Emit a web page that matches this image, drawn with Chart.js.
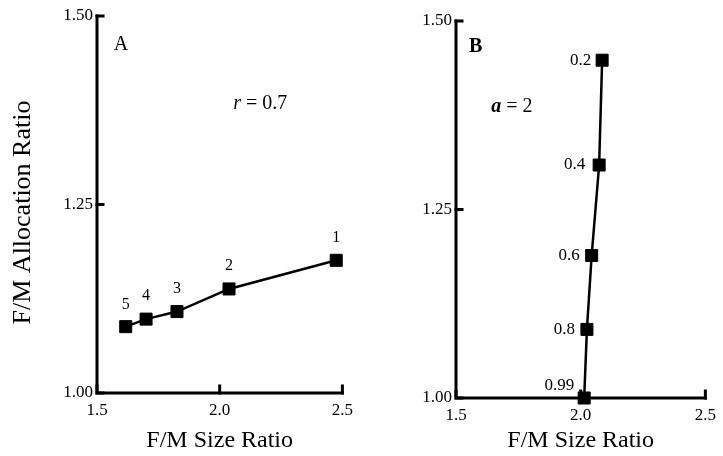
<!DOCTYPE html>
<html>
<head>
    <title>F/M Allocation vs Size Ratio</title>
    <style>
        body {
            margin: 0;
            background-color: #ffffff;
        }

        #chartContainer {
            position: relative;
            width: 723px;
            height: 456px;
        }

        #chartA {
            position: absolute;
            left: 0;
            top: 0;
        }

        #chartB {
            position: absolute;
            left: 360px;
            top: 0;
        }
    </style>
    <script src="https://cdn.jsdelivr.net/npm/chart.js"></script>
</head>
<body>
    <div id="chartContainer">
        <canvas id="chartA" width="360" height="456"></canvas>
        <canvas id="chartB" width="363" height="456"></canvas>
    </div>

    <script>
        // Panel A: r = 0.7, points labelled by the other parameter
        var sizeA = [1.617, 1.700, 1.826, 2.038, 2.475];
        var allocA = [1.088, 1.098, 1.108, 1.138, 1.176];
        var labelsA = ['5', '4', '3', '2', '1'];

        // Panel B: a = 2
        var sizeB = [2.086, 2.074, 2.044, 2.025, 2.014];
        var allocB = [1.448, 1.309, 1.189, 1.091, 1.000];
        var labelsB = ['0.2', '0.4', '0.6', '0.8', '0.99'];

        var xTicks = [1.5, 2.0, 2.5];
        var yTicks = [1.00, 1.25, 1.50];

        var serif = "'Liberation Serif', 'Times New Roman', serif";

        function toPoints(xs, ys) {
            return xs.map(function (x, i) { return { x: x, y: ys[i] }; });
        }

        // axes drawn by hand: thick lines with ticks pointing inward
        var axesPlugin = {
            id: 'axesInward',
            beforeDatasetsDraw: function (chart) {
                var ctx = chart.ctx;
                var area = chart.chartArea;
                var xs = chart.scales.x;
                var ys = chart.scales.y;
                ctx.save();
                ctx.strokeStyle = '#000';
                ctx.lineWidth = 3;
                ctx.lineCap = 'square';
                ctx.beginPath();
                ctx.moveTo(area.left, area.top);
                ctx.lineTo(area.left, area.bottom);
                ctx.lineTo(area.right, area.bottom);
                ctx.stroke();
                ctx.beginPath();
                yTicks.forEach(function (v) {
                    var py = ys.getPixelForValue(v);
                    ctx.moveTo(area.left, py);
                    ctx.lineTo(area.left + 6, py);
                });
                xTicks.forEach(function (v) {
                    var px = xs.getPixelForValue(v);
                    ctx.moveTo(px, area.bottom);
                    ctx.lineTo(px, area.bottom - 7);
                });
                ctx.stroke();
                ctx.restore();
            }
        };

        // point labels, panel annotations and the y title
        var labelPlugin = {
            id: 'pointText',
            afterDatasetsDraw: function (chart, args, opts) {
                var ctx = chart.ctx;
                var meta = chart.getDatasetMeta(0);
                var area = chart.chartArea;
                ctx.save();
                ctx.fillStyle = '#000';
                ctx.font = opts.labelFont;
                ctx.textAlign = opts.align;
                ctx.textBaseline = 'middle';
                meta.data.forEach(function (pt, i) {
                    var off = opts.offsets[i];
                    ctx.fillText(opts.labels[i], pt.x + off[0], pt.y + off[1]);
                });
                ctx.textAlign = 'center';
                opts.notes.forEach(function (n) {
                    var px = chart.scales.x.getPixelForValue(n.x);
                    var py = chart.scales.y.getPixelForValue(n.y);
                    if (n.parts) {
                        // mixed italic symbol + plain rest
                        ctx.font = n.parts[0].font;
                        var w0 = ctx.measureText(n.parts[0].text).width;
                        ctx.font = n.parts[1].font;
                        var w1 = ctx.measureText(n.parts[1].text).width;
                        var start = px - (w0 + w1) / 2;
                        ctx.textAlign = 'left';
                        ctx.font = n.parts[0].font;
                        ctx.fillText(n.parts[0].text, start, py);
                        ctx.font = n.parts[1].font;
                        ctx.fillText(n.parts[1].text, start + w0, py);
                        ctx.textAlign = 'center';
                    } else {
                        ctx.font = n.font;
                        ctx.fillText(n.text, px, py);
                    }
                });
                if (opts.yTitle) {
                    ctx.translate(23, (area.top + area.bottom) / 2 + 8);
                    ctx.rotate(-Math.PI / 2);
                    ctx.font = '26px ' + serif;
                    ctx.fillText(opts.yTitle, 0, 0);
                }
                ctx.restore();
            }
        };

        function makeOptions(cfg) {
            return {
                responsive: false,
                animation: false,
                layout: { padding: cfg.padding },
                plugins: {
                    legend: { display: false },
                    tooltip: { enabled: false },
                    pointText: cfg.text
                },
                scales: {
                    x: {
                        type: 'linear',
                        min: 1.5,
                        max: 2.5,
                        border: { display: false },
                        grid: { display: false, drawTicks: false },
                        afterFit: function (s) { s.height = cfg.xHeight; },
                        afterBuildTicks: function (s) {
                            s.ticks = xTicks.map(function (v) { return { value: v }; });
                        },
                        ticks: {
                            color: '#000',
                            padding: 7,
                            maxRotation: 0,
                            font: { family: serif, size: 17 },
                            callback: function (v) { return Number(v).toFixed(1); }
                        },
                        title: {
                            display: true,
                            text: 'F/M Size Ratio',
                            color: '#000',
                            padding: { top: 0, bottom: 1 },
                            font: { family: serif, size: 24 }
                        }
                    },
                    y: {
                        type: 'linear',
                        min: 1.0,
                        max: 1.5,
                        border: { display: false },
                        grid: { display: false, drawTicks: false },
                        afterFit: function (s) { s.width = cfg.yWidth; },
                        afterBuildTicks: function (s) {
                            s.ticks = yTicks.map(function (v) { return { value: v }; });
                        },
                        ticks: {
                            color: '#000',
                            padding: 4,
                            font: { family: serif, size: 17 },
                            callback: function (v) { return Number(v).toFixed(2); }
                        }
                    }
                }
            };
        }

        function makeDataset(xs, ys) {
            return {
                data: toPoints(xs, ys),
                borderColor: '#000',
                borderWidth: 2.5,
                backgroundColor: '#000',
                pointStyle: 'rect',
                pointRadius: 8.5,
                pointBorderWidth: 1,
                pointBackgroundColor: '#000',
                pointBorderColor: '#000',
                tension: 0,
                clip: false
            };
        }

        var chartA = new Chart(document.getElementById('chartA'), {
            type: 'line',
            data: { datasets: [makeDataset(sizeA, allocA)] },
            options: makeOptions({
                padding: { top: 16, right: 8, left: 0, bottom: 0 },
                xHeight: 63,
                yWidth: 97,
                text: {
                    labels: labelsA,
                    labelFont: '16px ' + serif,
                    align: 'center',
                    offsets: [[0, -22], [0, -23], [0, -23], [0, -23], [0, -22]],
                    yTitle: 'F/M Allocation Ratio',
                    notes: [
                        { x: 1.598, y: 1.462, text: 'A', font: '20px ' + serif },
                        {
                            x: 2.165, y: 1.383,
                            parts: [
                                { text: 'r', font: 'italic 20px ' + serif },
                                { text: ' = 0.7', font: '20px ' + serif }
                            ]
                        }
                    ]
                }
            }),
            plugins: [axesPlugin, labelPlugin]
        });

        var chartB = new Chart(document.getElementById('chartB'), {
            type: 'line',
            data: { datasets: [makeDataset(sizeB, allocB)] },
            options: makeOptions({
                padding: { top: 21, right: 11, left: 0, bottom: 0 },
                xHeight: 58,
                yWidth: 96,
                text: {
                    labels: labelsB,
                    labelFont: '17px ' + serif,
                    align: 'right',
                    offsets: [[-11, 0], [-14, 0], [-12, 0], [-12, 0], [-10, -12]],
                    yTitle: null,
                    notes: [
                        { x: 1.579, y: 1.466, text: 'B', font: 'bold 20px ' + serif },
                        {
                            x: 1.724, y: 1.386,
                            parts: [
                                { text: 'a', font: 'bold italic 20px ' + serif },
                                { text: ' = 2', font: '20px ' + serif }
                            ]
                        }
                    ]
                }
            }),
            plugins: [axesPlugin, labelPlugin]
        });
    </script>
</body>
</html>
